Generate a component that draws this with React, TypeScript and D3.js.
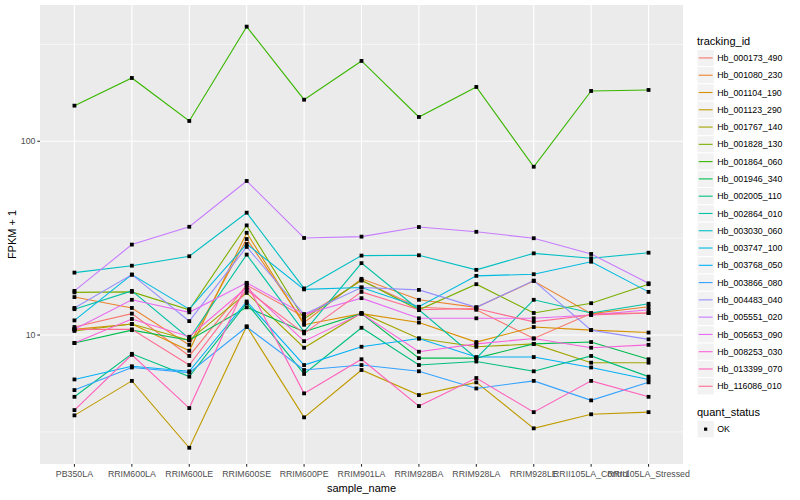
import React, { useEffect } from "react";
import * as d3 from "d3";

const samples = [
  "PB350LA",
  "RRIM600LA",
  "RRIM600LE",
  "RRIM600SE",
  "RRIM600PE",
  "RRIM901LA",
  "RRIM928BA",
  "RRIM928LA",
  "RRIM928LE",
  "RRII105LA_Control",
  "RRII105LA_Stressed",
];

const trackingIds = [
  "Hb_000173_490",
  "Hb_001080_230",
  "Hb_001104_190",
  "Hb_001123_290",
  "Hb_001767_140",
  "Hb_001828_130",
  "Hb_001864_060",
  "Hb_001946_340",
  "Hb_002005_110",
  "Hb_002864_010",
  "Hb_003030_060",
  "Hb_003747_100",
  "Hb_003768_050",
  "Hb_003866_080",
  "Hb_004483_040",
  "Hb_005551_020",
  "Hb_005653_090",
  "Hb_008253_030",
  "Hb_013399_070",
  "Hb_116086_010",
];

// ggplot hue palette, 20 levels
const palette = [
  "#F8766D", "#EA8331", "#D89000", "#C09B00", "#A3A500",
  "#7CAE00", "#39B600", "#00BB4E", "#00BF7D", "#00C1A3",
  "#00BFC4", "#00BAE0", "#00B0F6", "#35A2FF", "#9590FF",
  "#C77CFF", "#E76BF3", "#FA62DB", "#FF62BC", "#FF6C91",
];

// FPKM + 1, one value per sample
const hb_000173_490 = [11.0, 12.9, 7.8, 18.1, 12.4, 19.1, 13.9, 13.5, 9.6, 12.9, 13.0];
const hb_001080_230 = [15.7, 13.8, 8.9, 31.3, 11.6, 19.5, 15.2, 13.9, 19.0, 12.9, 14.0];
const hb_001104_190 = [10.7, 11.4, 8.3, 33.7, 11.3, 12.9, 11.6, 9.2, 11.0, 10.6, 10.3];
const hb_001123_290 = [3.85, 5.8, 2.62, 11.1, 3.76, 6.6, 4.9, 5.7, 3.3, 3.9, 4.0];
const hb_001767_140 = [10.5, 11.4, 9.4, 16.5, 8.6, 13.0, 9.6, 8.7, 9.0, 7.2, 7.2];
const hb_001828_130 = [16.6, 16.7, 13.5, 36.8, 12.1, 19.2, 13.5, 18.3, 13.0, 14.6, 18.3];
const hb_001864_060 = [152.7, 212.2, 127.3, 390.5, 163.9, 259.8, 133.5, 190.7, 73.9, 181.8, 184.0];
const hb_001946_340 = [9.1, 10.6, 9.4, 13.9, 10.4, 12.9, 7.6, 7.6, 9.0, 9.2, 7.5];
const hb_002005_110 = [4.8, 8.0, 6.1, 14.6, 6.3, 10.9, 7.0, 7.3, 6.5, 7.8, 6.1];
const hb_002864_010 = [13.6, 16.9, 9.6, 26.0, 10.4, 23.5, 13.5, 7.6, 15.2, 13.0, 14.5];
const hb_003030_060 = [21.0, 22.8, 25.5, 42.8, 17.4, 25.7, 25.8, 21.7, 26.4, 24.9, 26.6];
const hb_003747_100 = [11.9, 20.5, 13.6, 29.5, 17.2, 17.6, 14.0, 20.2, 20.6, 23.9, 16.7];
const hb_003768_050 = [5.9, 6.9, 6.5, 14.9, 7.0, 8.7, 9.6, 7.7, 7.7, 6.8, 5.9];
const hb_003866_080 = [5.2, 6.8, 6.4, 11.0, 6.6, 7.0, 6.5, 5.3, 5.8, 4.6, 5.7];
const hb_004483_040 = [13.8, 20.5, 11.8, 28.5, 12.8, 17.6, 17.1, 13.9, 19.1, 10.6, 9.5];
const hb_005551_020 = [16.9, 29.3, 36.2, 62.4, 31.7, 32.2, 36.1, 34.1, 31.6, 26.2, 18.5];
const hb_005653_090 = [10.7, 15.2, 13.1, 18.6, 12.8, 15.5, 12.2, 12.2, 12.2, 12.7, 13.5];
const hb_008253_030 = [9.1, 12.1, 9.8, 17.6, 9.3, 12.9, 8.2, 9.0, 9.6, 8.6, 8.9];
const hb_013399_070 = [4.1, 7.9, 4.2, 18.5, 5.0, 7.5, 4.3, 6.0, 4.0, 5.8, 4.8];
const hb_116086_010 = [10.7, 10.7, 7.0, 17.1, 10.2, 16.7, 13.5, 13.7, 11.7, 12.7, 13.0];

const seriesValues = [
  hb_000173_490, hb_001080_230, hb_001104_190, hb_001123_290, hb_001767_140,
  hb_001828_130, hb_001864_060, hb_001946_340, hb_002005_110, hb_002864_010,
  hb_003030_060, hb_003747_100, hb_003768_050, hb_003866_080, hb_004483_040,
  hb_005551_020, hb_005653_090, hb_008253_030, hb_013399_070, hb_116086_010,
];

const yMajor = [10, 100];
const yMinor = [Math.sqrt(10), Math.sqrt(1000), Math.sqrt(100000)];

const width = 800;
const height = 500;
const panel = { left: 40, top: 5, right: 683, bottom: 464 };
const font = "'Liberation Sans', Arial, Helvetica, sans-serif";

const xScale = d3
  .scalePoint<string>()
  .domain(samples)
  .range([panel.left, panel.right])
  .padding(0.6);
const yScale = d3
  .scaleLog()
  .domain([2.16, 505])
  .range([panel.bottom, panel.top]);

const line = d3
  .line<number>()
  .x((_, i) => xScale(samples[i])!)
  .y((d) => yScale(d));

const legendX = 697;
const keySize = 17.28;
const legendTop = 49.3;

export default function App() {
  useEffect(() => {
    document.body.style.margin = "0";
  }, []);

  const pw = panel.right - panel.left;
  const ph = panel.bottom - panel.top;

  return (
    <svg
      width={width}
      height={height}
      viewBox={`0 0 ${width} ${height}`}
      style={{ display: "block", background: "white", fontFamily: font }}
    >
      <rect x={panel.left} y={panel.top} width={pw} height={ph} fill="#EBEBEB" />
      {yMinor.map((v) => (
        <line
          key={"mn" + v}
          x1={panel.left}
          x2={panel.right}
          y1={yScale(v)}
          y2={yScale(v)}
          stroke="white"
          strokeWidth={0.55}
        />
      ))}
      {yMajor.map((v) => (
        <line
          key={"mj" + v}
          x1={panel.left}
          x2={panel.right}
          y1={yScale(v)}
          y2={yScale(v)}
          stroke="white"
          strokeWidth={1.1}
        />
      ))}
      {samples.map((s) => (
        <line
          key={"vx" + s}
          x1={xScale(s)}
          x2={xScale(s)}
          y1={panel.top}
          y2={panel.bottom}
          stroke="white"
          strokeWidth={1.1}
        />
      ))}

      {seriesValues.map((vals, i) => (
        <path
          key={trackingIds[i]}
          d={line(vals) ?? ""}
          fill="none"
          stroke={palette[i]}
          strokeWidth={1.1}
        />
      ))}
      {seriesValues.map((vals, i) =>
        vals.map((v, j) => (
          <rect
            key={trackingIds[i] + j}
            x={xScale(samples[j])! - 1.9}
            y={yScale(v) - 1.9}
            width={3.8}
            height={3.8}
            fill="black"
          />
        ))
      )}

      {/* y axis */}
      {yMajor.map((v) => (
        <g key={"yt" + v}>
          <line
            x1={panel.left - 2.7}
            x2={panel.left}
            y1={yScale(v)}
            y2={yScale(v)}
            stroke="#333333"
            strokeWidth={1.1}
          />
          <text
            x={panel.left - 4.5}
            y={yScale(v) + 3.1}
            textAnchor="end"
            fontSize={8.8}
            fill="#4D4D4D"
          >
            {v}
          </text>
        </g>
      ))}
      <text
        transform={`translate(15.5, ${(panel.top + panel.bottom) / 2}) rotate(-90)`}
        textAnchor="middle"
        fontSize={11}
        fill="black"
      >
        FPKM + 1
      </text>

      {/* x axis */}
      {samples.map((s) => (
        <g key={"xt" + s}>
          <line
            x1={xScale(s)}
            x2={xScale(s)}
            y1={panel.bottom}
            y2={panel.bottom + 2.7}
            stroke="#333333"
            strokeWidth={1.1}
          />
          <text
            x={xScale(s)}
            y={panel.bottom + 13.3}
            textAnchor="middle"
            fontSize={8.8}
            fill="#4D4D4D"
          >
            {s}
          </text>
        </g>
      ))}
      <text
        x={(panel.left + panel.right) / 2}
        y={491.5}
        textAnchor="middle"
        fontSize={11}
        fill="black"
      >
        sample_name
      </text>

      {/* legends */}
      <text x={legendX} y={44.5} fontSize={11} fill="black">
        tracking_id
      </text>
      {trackingIds.map((id, i) => {
        const y = legendTop + i * keySize;
        return (
          <g key={"lg" + id}>
            <rect
              x={legendX}
              y={y}
              width={keySize}
              height={keySize}
              fill="#F2F2F2"
              stroke="white"
              strokeWidth={1}
            />
            <line
              x1={legendX + 1.7}
              x2={legendX + keySize - 1.7}
              y1={y + keySize / 2}
              y2={y + keySize / 2}
              stroke={palette[i]}
              strokeWidth={1.1}
            />
            <text
              x={legendX + keySize + 3}
              y={y + keySize / 2 + 3.1}
              fontSize={8.8}
              fill="black"
            >
              {id}
            </text>
          </g>
        );
      })}
      <text x={legendX} y={416} fontSize={11} fill="black">
        quant_status
      </text>
      <rect
        x={legendX}
        y={420.5}
        width={keySize}
        height={keySize}
        fill="#F2F2F2"
        stroke="white"
        strokeWidth={1}
      />
      <rect
        x={legendX + keySize / 2 - 1.6}
        y={420.5 + keySize / 2 - 1.6}
        width={3.2}
        height={3.2}
        fill="black"
      />
      <text x={legendX + keySize + 3} y={420.5 + keySize / 2 + 3.1} fontSize={8.8} fill="black">
        OK
      </text>
    </svg>
  );
}
